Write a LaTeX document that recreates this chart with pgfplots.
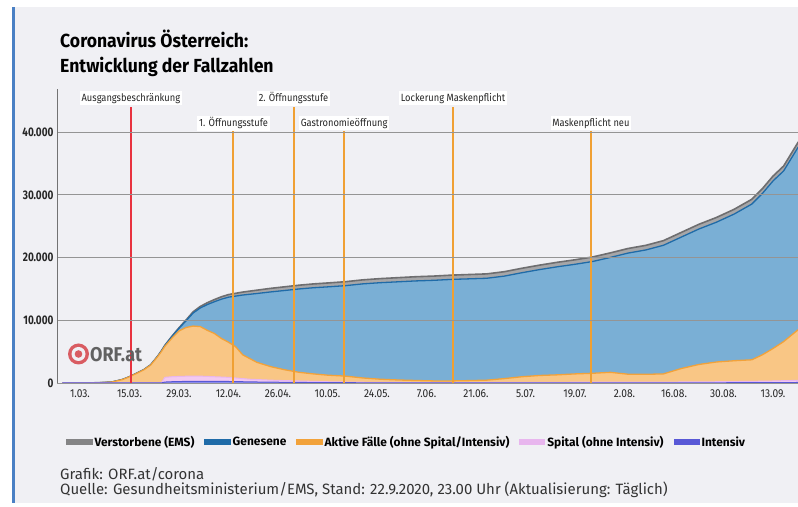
\documentclass[border=0pt]{standalone}
\usepackage{fontspec}
\setmainfont{Fira Sans}
\newfontfamily\cond{Fira Sans}[FakeStretch=0.80]
\newfontfamily\titf{Fira Sans}[FakeStretch=0.93]
\newfontfamily\annf{Fira Sans}[FakeStretch=0.89]
\newfontfamily\orff{Fira Sans}[FakeStretch=0.90]
\usepackage{pgfplots}
\usepackage{pgfplotstable}
\pgfplotsset{compat=1.18}

\definecolor{bg}{HTML}{F0F0F4}
\definecolor{barblue}{HTML}{4A80C4}
\definecolor{grayfill}{HTML}{A6A6A8}
\definecolor{grayline}{HTML}{6E6E70}
\definecolor{bluefill}{HTML}{7AAFD5}
\definecolor{blueline}{HTML}{1F6BA8}
\definecolor{orfill}{HTML}{F9C685}
\definecolor{orline}{HTML}{F2A23A}
\definecolor{pinkfill}{HTML}{F2C9F2}
\definecolor{pinkline}{HTML}{E8B6EE}
\definecolor{intfill}{HTML}{8C8CEB}
\definecolor{intline}{HTML}{5858D6}
\definecolor{evred}{HTML}{E8323F}
\definecolor{evor}{HTML}{F0A033}
\definecolor{orfred}{HTML}{D95C62}

% day, T = total (top of Verstorbene), G = top of Genesene, A = top of Aktive, S = top of Spital, I = Intensiv
\pgfplotstableread{
day T G A S I
-5 2 2 2 0 0
0 10 10 10 0 0
3 15 15 15 0 0
6 60 60 60 0 0
9 150 150 150 0 0
12 550 550 540 0 0
14 1000 1000 990 0 0
16 1550 1550 1530 0 0
18 2100 2100 2080 0 0
20 2900 2894 2860 0 0
22 4300 4284 4230 0 0
23 5100 5077 5000 0 0
24 6000 5970 5850 900 150
26 7450 7400 7150 1000 200
28 8800 8710 8300 1050 230
30 10050 9920 8850 1080 250
32 11350 11160 9080 1100 260
34 12200 11960 9000 1090 265
36 12800 12510 8400 1050 265
38 13300 12960 7900 1000 260
40 13750 13370 7100 950 250
42 14100 13690 6500 900 240
44 14300 13860 5800 800 220
46 14500 14030 4500 700 200
48 14650 14150 3900 600 180
50 14800 14270 3300 550 160
54 15100 14530 2600 450 130
58 15350 14760 2100 380 110
62 15600 15000 1700 320 90
66 15800 15190 1450 260 70
70 15950 15330 1250 200 55
75 16150 15520 1100 160 45
80 16450 15810 800 120 35
85 16650 16000 600 100 30
90 16800 16140 480 80 25
95 16950 16280 400 75 20
100 17050 16375 330 70 15
105 17200 16520 330 70 12
110 17300 16610 380 70 10
115 17400 16700 450 80 10
120 17750 17045 700 90 12
125 18300 17590 1000 100 15
130 18800 18088 1200 110 18
135 19250 18535 1300 115 20
140 19650 18932 1450 120 22
145 20100 19380 1550 125 24
150 20750 20025 1700 130 25
155 21450 20720 1400 135 27
160 21950 21215 1380 140 28
165 22700 21960 1450 150 29
170 24000 23255 2300 160 30
175 25300 24550 2950 180 32
180 26400 25645 3350 200 35
185 27700 26940 3550 230 42
190 29300 28535 3700 260 50
193 31000 30230 4500 290 55
196 33000 32225 5500 320 60
199 34600 33820 6600 370 70
203 38300 37510 8450 420 80
206 40500 39700 9300 450 85
}\datatab

\begin{document}
\begin{tikzpicture}[x=1bp,y=1bp]
\useasboundingbox (0,0) rectangle (798,507);
\fill[white] (0,0) rectangle (798,507);
\fill[bg] (12,4) rectangle (798,500);
\fill[barblue] (11.5,4) rectangle (14.5,500);

\node[anchor=base west, inner sep=0, font=\titf\bfseries\fontsize{19}{22}\selectfont] at (60,459) {Coronavirus Österreich:};
\node[anchor=base west, inner sep=0, font=\titf\bfseries\fontsize{19}{22}\selectfont] at (60,434) {Entwicklung der Fallzahlen};

\begin{axis}[
  at={(57bp,124bp)}, anchor=south west, scale only axis,
  width=741bp, height=294bp,
  xmin=-6.5, xmax=203.07, ymin=0, ymax=46890,
  axis line style={draw=none}, major tick length=0,
  scaled y ticks=false,
  ytick={0,10000,20000,30000,40000},
  yticklabels={0,10.000,20.000,30.000,40.000},
  xtick={0,14,...,196},
  xticklabels={1.03.,15.03.,29.03.,12.04.,26.04.,10.05.,24.05.,7.06.,21.06.,5.07.,19.07.,2.08.,16.08.,30.08.,13.09.},
  ymajorgrids, major grid style={draw=black!42, line width=0.9bp},
  axis on top,
  yticklabel style={font=\cond\bfseries\fontsize{12.5}{14}\selectfont, text=black!85},
  xticklabel style={font=\annf\fontsize{11.5}{13}\selectfont, text=black!85, yshift=-3bp},
  legend columns=5,
  legend style={at={(0.4717,-0.2007)}, anchor=center, draw=none, fill=none,
    font=\bfseries\fontsize{12}{14}\selectfont, inner sep=0pt,
    /tikz/every even column/.append style={column sep=8bp}},
]
% filled areas (tops of the stacked layers)
\addplot[draw=none, fill=grayfill, forget plot] table[x=day,y=T]{\datatab} \closedcycle;
\addplot[grayline, line width=1.6bp,
  legend image code/.code={\fill[grayline!85] (0bp,-2.6bp) rectangle (25bp,2.6bp);}]
  table[x=day,y=T]{\datatab};
\addlegendentry{Verstorbene (EMS)}

\addplot[draw=none, fill=bluefill, forget plot] table[x=day,y=G]{\datatab} \closedcycle;
\addplot[blueline, line width=1.3bp,
  legend image code/.code={\fill[blueline] (0bp,-2.6bp) rectangle (25bp,2.6bp);}]
  table[x=day,y=G]{\datatab};
\addlegendentry{Genesene}

\addplot[draw=none, fill=orfill, forget plot] table[x=day,y=A]{\datatab} \closedcycle;
\addplot[orline, line width=1.3bp,
  legend image code/.code={\fill[orline] (0bp,-2.6bp) rectangle (25bp,2.6bp);}]
  table[x=day,y=A]{\datatab};
\addlegendentry{Aktive Fälle (ohne Spital/Intensiv)}

\addplot[draw=none, fill=pinkfill, forget plot] table[x=day,y=S]{\datatab} \closedcycle;
\addplot[pinkline, line width=1bp,
  legend image code/.code={\fill[pinkline] (0bp,-2.6bp) rectangle (25bp,2.6bp);}]
  table[x=day,y=S]{\datatab};
\addlegendentry{Spital (ohne Intensiv)}

\addplot[draw=none, fill=intfill, forget plot] table[x=day,y=I]{\datatab} \closedcycle;
\addplot[intline, line width=1bp,
  legend image code/.code={\fill[intline] (0bp,-2.6bp) rectangle (25bp,2.6bp);}]
  table[x=day,y=I]{\datatab};
\addlegendentry{Intensiv}

% event lines
\draw[evred, line width=2bp] (axis cs:14.4,0) -- (axis cs:14.4,43980);
\draw[evor, line width=2bp] (axis cs:43.4,0) -- (axis cs:43.4,40200);
\draw[evor, line width=2bp] (axis cs:60.4,0) -- (axis cs:60.4,43980);
\draw[evor, line width=2bp] (axis cs:74.7,0) -- (axis cs:74.7,40200);
\draw[evor, line width=2bp] (axis cs:105.5,0) -- (axis cs:105.5,43980);
\draw[evor, line width=2bp] (axis cs:144.5,0) -- (axis cs:144.5,40200);
\begin{scope}[every node/.style={fill=white, inner sep=1.8bp, text=black!85, font=\annf\fontsize{10.5}{12}\selectfont}]
\node at (axis cs:14.4,45430) {Ausgangsbeschränkung};
\node at (axis cs:43.4,41440) {1. Öffnungsstufe};
\node at (axis cs:60.4,45430) {2. Öffnungsstufe};
\node at (axis cs:74.7,41440) {Gastronomieöffnung};
\node at (axis cs:105.5,45430) {Lockerung Maskenpflicht};
\node at (axis cs:144.5,41440) {Maskenpflicht neu};
\end{scope}
\end{axis}
% left axis line
\draw[black!55, line width=1bp] (57,124) -- (57,418);

% ORF.at logo
\fill[orfred] (78.5,153) circle (10.5);
\fill[bg] (78.5,153) circle (7);
\fill[orfred] (78.5,153) circle (3.8);
\node[anchor=base west, inner sep=0, text=black!62, font=\orff\bfseries\fontsize{20}{22}\selectfont] at (90,145.5) {ORF.at};

% footer
\node[anchor=base west, inner sep=0, text=black!80, font=\fontsize{15}{17}\selectfont] at (60,27) {Grafik: ORF.at/corona};
\node[anchor=base west, inner sep=0, text=black!80, font=\fontsize{15}{17}\selectfont] at (60,12) {Quelle: Gesundheitsministerium/EMS, Stand: 22.9.2020, 23.00 Uhr (Aktualisierung: Täglich)};
\end{tikzpicture}
\end{document}
